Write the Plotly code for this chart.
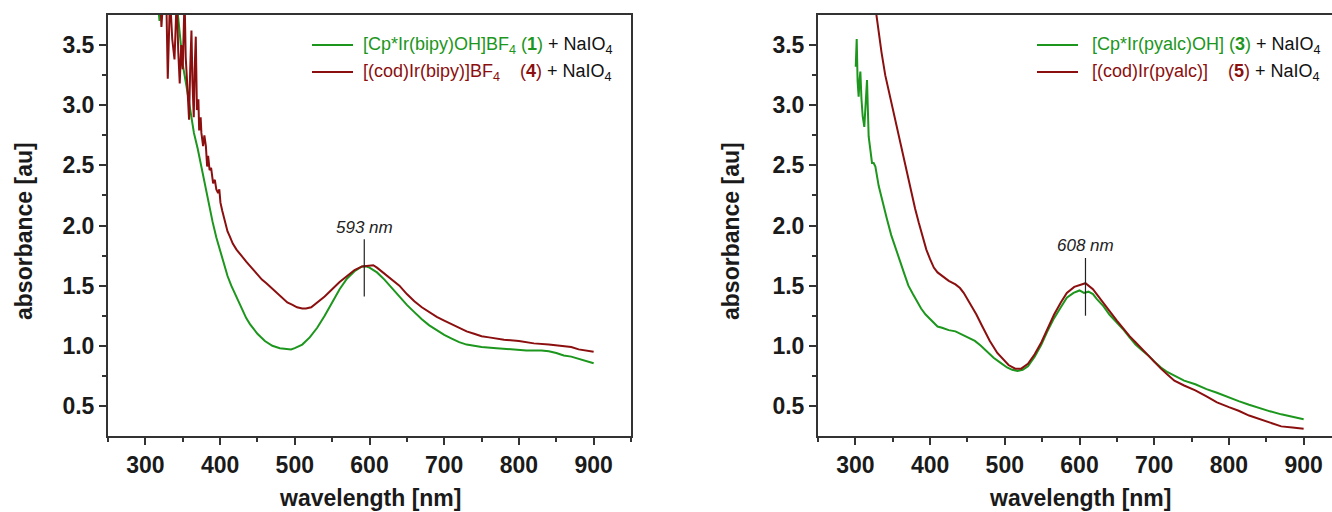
import plotly.graph_objects as go

# ---------------- data ----------------
# Left panel: [Cp*Ir(bipy)OH]BF4 (1) + NaIO4  (green)
wl1 = [316, 319, 322, 342, 346, 350, 355, 360, 365, 370, 375, 380, 385, 390, 395,
       400, 405, 410, 415, 420, 425, 430, 435, 440, 445, 450, 460, 470, 480, 490,
       495, 500, 510, 520, 530, 540, 550, 560, 570, 580, 590, 595, 600, 610, 620,
       630, 640, 650, 660, 670, 680, 690, 700, 710, 720, 730, 740, 750, 770, 790,
       810, 830, 840, 850, 860, 870, 880, 890, 900]
abs1 = [3.90, 3.70, 3.90, 3.85, 3.60, 3.34, 3.16, 2.96, 2.77, 2.64, 2.48, 2.33, 2.18, 2.03, 1.90,
        1.79, 1.68, 1.58, 1.50, 1.43, 1.36, 1.29, 1.23, 1.18, 1.14, 1.10, 1.04, 1.00, 0.98, 0.97,
        0.97, 0.98, 1.01, 1.07, 1.15, 1.25, 1.36, 1.47, 1.56, 1.62, 1.66, 1.66, 1.65, 1.61, 1.55,
        1.48, 1.41, 1.34, 1.28, 1.22, 1.17, 1.13, 1.09, 1.06, 1.03, 1.01, 1.00, 0.99, 0.98, 0.97,
        0.96, 0.96, 0.955, 0.94, 0.92, 0.91, 0.89, 0.87, 0.855]

# Left panel: [(cod)Ir(bipy)]BF4 (4) + NaIO4  (dark red, noisy in the UV)
wl4 = [320, 321.5, 324, 326, 328, 330, 333, 336, 339, 342, 344, 346, 348, 350, 352.5, 354,
       356, 358.5, 360, 361.7, 363, 364.8, 366, 367.5, 369, 371, 372, 374, 375, 377.3, 379,
       381, 382.7, 384, 386, 388, 390.7, 393, 395, 397.4, 399, 400.5, 403, 406, 410, 413,
       417, 422, 428, 435, 442, 449, 456, 462, 469, 476, 483, 490, 497, 503, 510,
       515, 522, 530, 540, 550, 560, 570, 580, 590, 600, 605, 610, 620, 630, 640,
       650, 660, 670, 680, 690, 700, 710, 720, 730, 740, 750, 760, 780, 800, 820,
       840, 860, 870, 880, 890, 900]
abs4 = [3.90, 3.65, 3.90, 3.80, 3.90, 3.22, 3.90, 3.55, 3.38, 3.90, 3.45, 3.18, 3.50, 3.30, 3.90, 3.40,
        3.18, 2.88, 3.30, 3.62, 3.20, 2.90, 3.30, 3.57, 2.96, 3.05, 2.79, 2.90, 2.77, 2.66, 2.75,
        2.66, 2.49, 2.58, 2.46, 2.48, 2.35, 2.38, 2.30, 2.27, 2.30, 2.19, 2.12, 2.05, 1.95, 1.91,
        1.85, 1.80, 1.75, 1.70, 1.65, 1.60, 1.55, 1.52, 1.48, 1.44, 1.40, 1.36, 1.34, 1.32, 1.31,
        1.31, 1.32, 1.36, 1.41, 1.47, 1.53, 1.58, 1.63, 1.66, 1.67, 1.67, 1.65, 1.60, 1.55, 1.50,
        1.43, 1.37, 1.32, 1.28, 1.24, 1.21, 1.18, 1.15, 1.12, 1.10, 1.08, 1.07, 1.05, 1.04, 1.02,
        1.01, 1.00, 0.99, 0.97, 0.96, 0.95]

# Right panel: [Cp*Ir(pyalc)OH] (3) + NaIO4  (green)
wl3 = [300.5, 301.8, 303.0, 304.4, 305.5, 306.7, 308.2, 309.8, 312.0, 313.8, 315.6, 317.8, 320.0, 321.2, 322.3,
       324.5, 326.8, 331.2, 336, 342, 348, 354, 360, 366, 371, 377, 382, 388, 394, 400,
       405, 410, 416, 425, 434, 443, 451, 460, 468, 476, 485, 494, 503, 510, 517,
       524, 531, 540, 549, 557, 566, 575, 583, 592, 600, 606, 612, 618, 623, 632,
       640, 649, 658, 667, 675, 684, 692, 700, 709, 718, 727, 740, 755, 770, 784,
       798, 813, 827, 841, 855, 870, 885, 900]
abs3 = [3.32, 3.55, 3.20, 3.07, 3.20, 3.28, 3.05, 2.91, 2.82, 3.00, 3.21, 2.74, 2.63, 2.62, 2.52,
        2.52, 2.49, 2.33, 2.20, 2.06, 1.92, 1.80, 1.70, 1.59, 1.50, 1.43, 1.37, 1.31, 1.26, 1.22,
        1.19, 1.16, 1.15, 1.13, 1.12, 1.09, 1.07, 1.04, 1.00, 0.95, 0.90, 0.86, 0.82, 0.80, 0.79,
        0.80, 0.83, 0.91, 1.01, 1.12, 1.23, 1.32, 1.40, 1.44, 1.46, 1.44, 1.45, 1.43, 1.39, 1.33,
        1.26, 1.20, 1.14, 1.07, 1.01, 0.96, 0.92, 0.87, 0.82, 0.78, 0.75, 0.71, 0.68, 0.64, 0.61,
        0.575, 0.54, 0.51, 0.48, 0.455, 0.43, 0.41, 0.39]

# Right panel: [(cod)Ir(pyalc)] (5) + NaIO4  (dark red)
wl5 = [326, 330, 335, 340, 345, 350, 355, 360, 365, 370, 375, 380, 385, 390, 395,
       400, 405, 410, 416, 425, 434, 440, 445, 450, 455, 462, 470, 480, 490, 497,
       505, 514, 522, 531, 540, 549, 557, 566, 575, 583, 593, 603, 608, 612, 618,
       623, 632, 640, 650, 658, 667, 675, 684, 692, 700, 709, 718, 727, 740, 755,
       770, 784, 800, 813, 827, 841, 855, 870, 885, 900]
abs5 = [3.85, 3.65, 3.44, 3.25, 3.11, 2.98, 2.83, 2.68, 2.54, 2.40, 2.27, 2.14, 2.02, 1.90, 1.80,
        1.72, 1.65, 1.61, 1.58, 1.54, 1.51, 1.48, 1.44, 1.39, 1.34, 1.26, 1.16, 1.04, 0.94, 0.89,
        0.84, 0.81, 0.81, 0.85, 0.93, 1.03, 1.14, 1.26, 1.36, 1.44, 1.49, 1.51, 1.52, 1.50, 1.47,
        1.43, 1.36, 1.29, 1.21, 1.15, 1.08, 1.03, 0.97, 0.92, 0.87, 0.81, 0.76, 0.71, 0.67, 0.63,
        0.58, 0.53, 0.49, 0.46, 0.42, 0.39, 0.36, 0.33, 0.32, 0.31]

assert len(wl1) == len(abs1) and len(wl4) == len(abs4)
assert len(wl3) == len(abs3) and len(wl5) == len(abs5)

# peak markers: wavelength, label height, marker line bottom, marker line top
peak_wl = [593, 608]
peak_label_y = [1.98, 1.83]
peak_line_lo = [1.41, 1.25]
peak_line_hi = [1.885, 1.73]

x_tick_vals = [300, 400, 500, 600, 700, 800, 900]
y_tick_vals = [0.5, 1.0, 1.5, 2.0, 2.5, 3.0, 3.5]

GREEN = "#1c961c"
RED = "#8b0f0f"
AXC = "#333333"
FONT = "Liberation Sans, Arial, sans-serif"

legend_left = [
    ("[Cp*Ir(bipy)OH]BF<sub>4</sub> (<b>1</b>)", GREEN),
    ("[(cod)Ir(bipy)]BF<sub>4</sub>\u00a0\u00a0\u00a0 (<b>4</b>)", RED),
]
legend_right = [
    ("[Cp*Ir(pyalc)OH] (<b>3</b>)", GREEN),
    ("[(cod)Ir(pyalc)]\u00a0\u00a0\u00a0 (<b>5</b>)", RED),
]

# ---------------- figure ----------------
W, H = 1332, 512
MT, MB = 15, 76
fig = go.Figure()

fig.add_trace(go.Scatter(x=wl1, y=abs1, mode="lines", line=dict(color=GREEN, width=2),
                         xaxis="x", yaxis="y", showlegend=False))
fig.add_trace(go.Scatter(x=wl4, y=abs4, mode="lines", line=dict(color=RED, width=2),
                         xaxis="x", yaxis="y", showlegend=False))
fig.add_trace(go.Scatter(x=wl3, y=abs3, mode="lines", line=dict(color=GREEN, width=2),
                         xaxis="x2", yaxis="y2", showlegend=False))
fig.add_trace(go.Scatter(x=wl5, y=abs5, mode="lines", line=dict(color=RED, width=2),
                         xaxis="x2", yaxis="y2", showlegend=False))

tickfont = dict(family=FONT, size=23, color="#1a1a1a", weight="bold")

def xaxis(domain, rng, anchor):
    return dict(domain=domain, range=rng, anchor=anchor, tickvals=x_tick_vals,
                ticks="outside", ticklen=7, tickwidth=1.5, tickcolor=AXC,
                showline=True, linecolor=AXC, linewidth=2, mirror=True,
                showgrid=False, zeroline=False, tickfont=tickfont,
                minor=dict(tickvals=[250, 350, 450, 550, 650, 750, 850, 950], ticks="outside",
                           ticklen=4, tickwidth=1.5, tickcolor=AXC, showgrid=False))

def yaxis(anchor, mirror):
    return dict(domain=[0, 1], range=[0.25, 3.75], anchor=anchor, tickvals=y_tick_vals,
                tickformat=".1f", ticks="outside", ticklen=7, tickwidth=1.5, tickcolor=AXC,
                showline=True, linecolor=AXC, linewidth=2, mirror=mirror,
                showgrid=False, zeroline=False, tickfont=tickfont,
                minor=dict(tickvals=[0.75, 1.25, 1.75, 2.25, 2.75, 3.25], ticks="outside",
                           ticklen=4, tickwidth=1.5, tickcolor=AXC, showgrid=False))

L0, L1 = 108 / W, 631 / W
R0 = 818 / W
px_per_nm = (631 - 108) / 700.0
r_max = 250 + (W - 818) / px_per_nm

annotations = []
shapes = []

def py(p):  # pixel y -> paper y
    return (H - MB - p) / (H - MT - MB)

def pxp(p):  # pixel x -> paper x
    return p / W

# axis titles
title_font = dict(family=FONT, size=23, color="#1a1a1a", weight="bold")
for cx in (pxp(24), pxp(731)):
    annotations.append(dict(text="absorbance [au]", x=cx, y=py(231), xref="paper", yref="paper",
                            textangle=-90, showarrow=False, font=title_font,
                            xanchor="center", yanchor="middle"))
for cx in (pxp((108 + 631) / 2), pxp((818 + 1341) / 2)):
    annotations.append(dict(text="wavelength [nm]", x=cx, y=py(498), xref="paper", yref="paper",
                            showarrow=False, font=title_font, xanchor="center", yanchor="middle"))

# legends (sample line + coloured text)
def add_legend(entries, line_x0, line_x1, text_x, ys):
    for (txt, col), yy in zip(entries, ys):
        shapes.append(dict(type="line", xref="paper", yref="paper",
                           x0=pxp(line_x0), x1=pxp(line_x1), y0=py(yy), y1=py(yy),
                           line=dict(color=col, width=2)))
        annotations.append(dict(
            text=f'<span style="color:{col}">{txt}</span> + NaIO<sub>4</sub>',
            x=pxp(text_x), y=py(yy), xref="paper", yref="paper", showarrow=False,
            xanchor="left", yanchor="middle",
            font=dict(family=FONT, size=18, color="#111111")))

add_legend(legend_left, 312, 353, 361, [45, 72])
add_legend(legend_right, 1037, 1078, 1090, [45, 72])

# peak markers
for i, (xa, ya) in enumerate([("x", "y"), ("x2", "y2")]):
    shapes.append(dict(type="line", xref=xa, yref=ya, x0=peak_wl[i], x1=peak_wl[i],
                       y0=peak_line_lo[i], y1=peak_line_hi[i], line=dict(color="#222222", width=1.2)))
    annotations.append(dict(text=f"<i>{peak_wl[i]} nm</i>", x=peak_wl[i], y=peak_label_y[i],
                            xref=xa, yref=ya, showarrow=False, xanchor="center", yanchor="middle",
                            font=dict(family=FONT, size=17, color="#222222")))

fig.update_layout(
    width=W, height=H, margin=dict(l=0, r=0, t=MT, b=MB, autoexpand=False),
    paper_bgcolor="white", plot_bgcolor="white", showlegend=False,
    xaxis=xaxis([L0, L1], [250, 950], "y"),
    yaxis=yaxis("x", True),
    xaxis2=xaxis([R0, 1.0], [250, r_max], "y2"),
    yaxis2=yaxis("x2", False),
    annotations=annotations, shapes=shapes,
)

# remove the browser's default 8px page margin so the figure fills the window exactly
fig.write_html("out.html", config={"displayModeBar": False},
               post_script="document.body.style.margin='0px';"
                           "document.body.style.overflow='hidden';")
